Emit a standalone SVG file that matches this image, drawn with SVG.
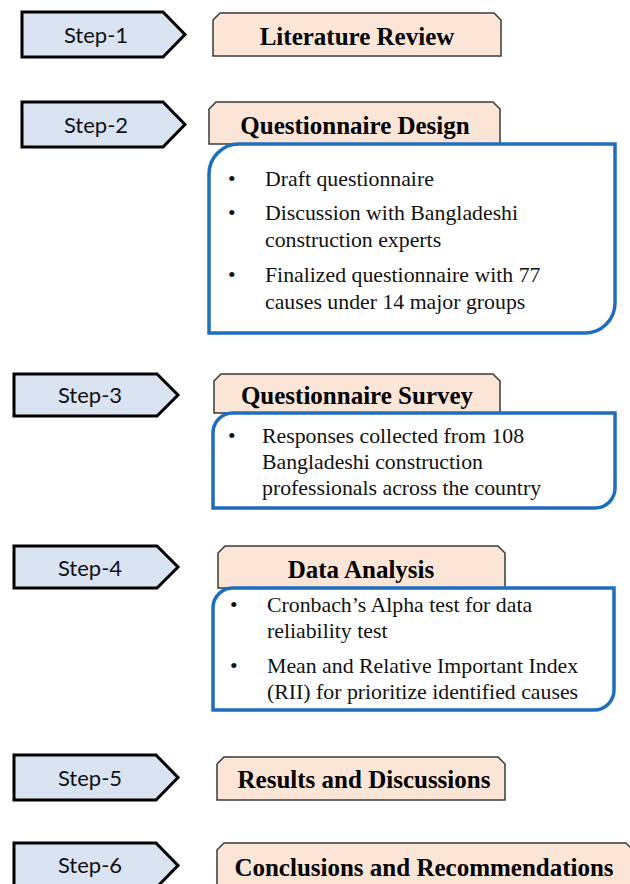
<svg xmlns="http://www.w3.org/2000/svg" width="630" height="884" viewBox="0 0 630 884">
<style>
.step{fill:#dae3f1;stroke:#000;stroke-width:3;stroke-linejoin:miter}
.steptxt{font-family:Lato,"Open Sans",sans-serif;font-size:22px;fill:#111;text-anchor:middle}
.title{fill:#fbe5d6;stroke:#3a3a3a;stroke-width:1.5}
.titletxt{font-family:"Liberation Serif","Times New Roman",serif;font-weight:bold;font-size:25px;fill:#000;text-anchor:middle}
.blue{fill:#fff;stroke:#1f6ebd;stroke-width:3.5}
.body{font-family:"Liberation Serif","Times New Roman",serif;font-size:21.8px;fill:#111}
</style>
<rect width="630" height="884" fill="#fff"/>

<g id="step1"><polygon class="step" points="22,12 163,12 185,34.5 163,57 22,57"/><text class="steptxt" x="96" y="43">Step-1</text></g>
<g id="step2"><polygon class="step" points="22,102 163,102 185,124.5 163,147 22,147"/><text class="steptxt" x="96" y="133">Step-2</text></g>
<g id="step3"><polygon class="step" points="14,374 157,374 178,395 157,416 14,416"/><text class="steptxt" x="90" y="403">Step-3</text></g>
<g id="step4"><polygon class="step" points="14,546 157,546 178,567 157,588 14,588"/><text class="steptxt" x="90" y="576">Step-4</text></g>
<g id="step5"><polygon class="step" points="14,755 156,755 178,777.5 156,800 14,800"/><text class="steptxt" x="90" y="786">Step-5</text></g>
<g id="step6"><polygon class="step" points="14,843 156,843 178,865.5 156,888 14,888"/><text class="steptxt" x="90" y="873">Step-6</text></g>

<g id="literature-review"><polygon class="title" points="213,20 220,13 494,13 501,20 501,56 213,56"/><text class="titletxt" x="357" y="45">Literature Review</text></g>

<g id="questionnaire-design"><polygon class="title" points="209,109 216,102 493,102 500,109 500,144 209,144"/><text class="titletxt" x="355" y="134">Questionnaire Design</text></g>
<g id="design-details">
<path class="blue" d="M239,144 H615 V303 A30,30 0 0 1 585,333 H209 V174 A30,30 0 0 1 239,144 Z"/>
<text class="body" x="228" y="186">•</text><text class="body" x="265" y="186">Draft questionnaire</text>
<text class="body" x="228" y="220">•</text><text class="body" x="265" y="220">Discussion with Bangladeshi</text>
<text class="body" x="265" y="247">construction experts</text>
<text class="body" x="228" y="282">•</text><text class="body" x="265" y="282">Finalized questionnaire with 77</text>
<text class="body" x="265" y="309">causes under 14 major groups</text>
</g>

<g id="questionnaire-survey"><polygon class="title" points="214,381 221,374 493,374 500,381 500,413 214,413"/><text class="titletxt" x="357" y="404">Questionnaire Survey</text></g>
<g id="survey-details">
<path class="blue" d="M233,413 H615 V488 A20,20 0 0 1 595,508 H213 V433 A20,20 0 0 1 233,413 Z"/>
<text class="body" x="228" y="443">•</text><text class="body" x="262" y="443">Responses collected from 108</text>
<text class="body" x="262" y="469">Bangladeshi construction</text>
<text class="body" x="262" y="495">professionals across the country</text>
</g>

<g id="data-analysis"><polygon class="title" points="218,553 225,546 498,546 505,553 505,588 218,588"/><text class="titletxt" x="361" y="578">Data Analysis</text></g>
<g id="analysis-details">
<path class="blue" d="M233,588 H614 V690 A20,20 0 0 1 594,710 H213 V608 A20,20 0 0 1 233,588 Z"/>
<text class="body" x="230" y="612">•</text><text class="body" x="267" y="612">Cronbach’s Alpha test for data</text>
<text class="body" x="267" y="638">reliability test</text>
<text class="body" x="230" y="673">•</text><text class="body" x="267" y="673">Mean and Relative Important Index</text>
<text class="body" x="267" y="699">(RII) for prioritize identified causes</text>
</g>

<g id="results-discussions"><polygon class="title" points="217,764 224,757 498,757 505,764 505,800 217,800"/><text class="titletxt" x="364" y="788">Results and Discussions</text></g>

<g id="conclusions-recommendations"><polygon class="title" points="217,850 224,843 626,843 633,850 633,900 217,900"/><text class="titletxt" x="424" y="876">Conclusions and Recommendations</text></g>

<g id="connectors"></g>
</svg>
